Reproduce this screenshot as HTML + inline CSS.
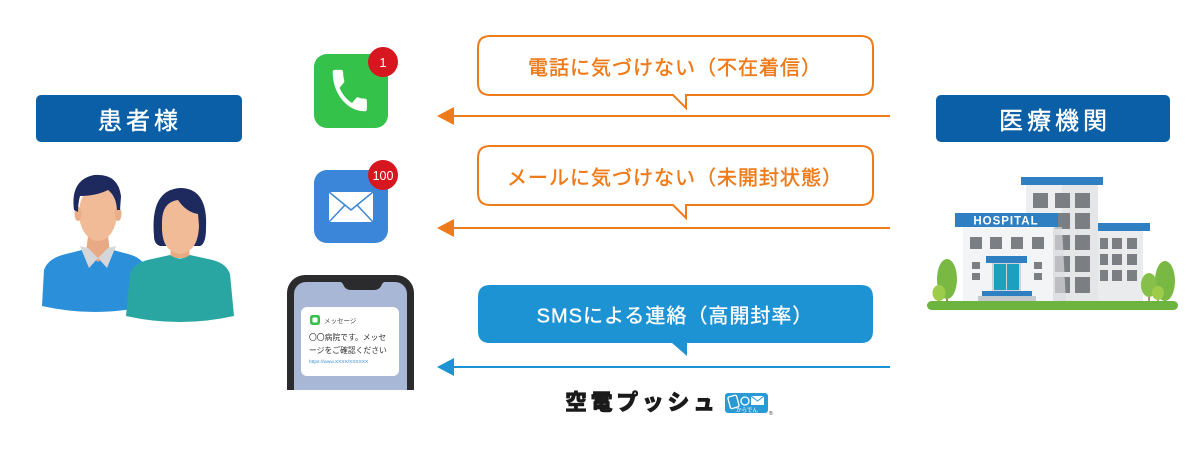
<!DOCTYPE html>
<html><head><meta charset="utf-8"><style>
html,body{margin:0;padding:0;background:#fff;}
svg{display:block;}
text{font-family:"Liberation Sans","Noto Sans CJK JP",sans-serif;}
</style></head><body>
<svg width="1200" height="453" viewBox="0 0 1200 453" xmlns="http://www.w3.org/2000/svg">
<defs>
<clipPath id="phclip"><rect x="280" y="270" width="140" height="120"/></clipPath>
</defs>

<!-- Header boxes -->
<rect x="36" y="95" width="206" height="47" rx="5" fill="#0b5fa6"/>
<text x="140" y="129" font-size="24" fill="#fff" stroke="#fff" stroke-width="0.4" text-anchor="middle" letter-spacing="4">患者様</text>
<rect x="936" y="95" width="234" height="47" rx="5" fill="#0b5fa6"/>
<text x="1055" y="129" font-size="24" fill="#fff" stroke="#fff" stroke-width="0.4" text-anchor="middle" letter-spacing="4">医療機関</text>

<!-- People -->
<!-- man -->
<path d="M44 270 Q48 258 66 254 L98 246 L128 254 Q144 258 146 270 L148 306 Q95 318 42 306 Z" fill="#2b8fd9"/>
<path d="M88 236 L108 236 L110 252 L98 262 L86 252 Z" fill="#e8a985"/>
<path d="M80 246 L88 248 L98 258 L89 268 Z" fill="#d4d6d9"/>
<path d="M116 246 L108 248 L98 258 L107 268 Z" fill="#d4d6d9"/>
<ellipse cx="98" cy="213" rx="19" ry="28" fill="#f2bb98"/>
<ellipse cx="78" cy="214" rx="3.5" ry="7" fill="#eaae89"/>
<ellipse cx="118" cy="214" rx="3.5" ry="7" fill="#eaae89"/>
<path d="M74 210 Q70 180 94 175 Q118 173 121 196 L120 210 L117 210 Q116 196 108 190 Q96 196 80 196 Q78 203 78 212 Z" fill="#1e2a5e"/>
<!-- woman -->
<path d="M154 236 Q150 190 180 188 Q208 188 206 228 Q206 244 200 246 L160 246 Q154 244 154 236 Z" fill="#1e2a5e"/>
<path d="M172 240 L188 240 L190 258 L170 258 Z" fill="#e8a985"/>
<path d="M130 274 Q134 262 152 259 L170 255 Q180 262 190 255 L208 259 Q226 262 230 274 L234 316 Q180 328 126 316 Z" fill="#2aa6a2"/>
<path d="M162 222 Q162 202 178 200 Q186 212 198 214 L199 226 Q198 252 180 254 Q163 252 162 230 Z" fill="#f2bb98"/>

<!-- Phone icon -->
<rect x="314" y="54" width="74" height="74" rx="13" fill="#34c24a"/>
<path transform="translate(327,63) scale(1.9,2.3)" fill="#fff" d="M6.62 10.79c1.44 2.83 3.76 5.14 6.59 6.59l2.2-2.2c.27-.27.67-.36 1.020-.24 1.12.37 2.33.57 3.57.57.55 0 1 .45 1 1V20c0 .55-.45 1-1 1-9.39 0-17-7.610-17-17 0-.55.45-1 1-1h3.5c.55 0 1 .45 1 1 0 1.25.2 2.45.57 3.570.11.35.03.74-.25 1.02l-2.2 2.2z"/>
<circle cx="383" cy="62" r="15" fill="#d7171f"/>
<text x="383" y="67" font-size="13" fill="#fff" text-anchor="middle">1</text>

<!-- Mail icon -->
<rect x="314" y="170" width="74" height="73" rx="13" fill="#3b86d8"/>
<rect x="329" y="192" width="44" height="30" fill="#fff"/>
<polyline points="329,192 351,210 373,192" fill="none" stroke="#3b86d8" stroke-width="1.5"/>
<line x1="329" y1="222" x2="345" y2="205" stroke="#3b86d8" stroke-width="1.5"/>
<line x1="373" y1="222" x2="357" y2="205" stroke="#3b86d8" stroke-width="1.5"/>
<circle cx="383" cy="175" r="15" fill="#d7171f"/>
<text x="383" y="180" font-size="12.5" fill="#fff" text-anchor="middle">100</text>

<!-- Smartphone -->
<g clip-path="url(#phclip)">
<rect x="287" y="275" width="127" height="140" rx="18" fill="#2b2b2d"/>
<rect x="294" y="282" width="113" height="130" rx="12" fill="#a9b7d6"/>
<path d="M341 282 L384 282 L382 284 Q380 290 374 290 L351 290 Q345 290 343 284 Z" fill="#2b2b2d"/>
<rect x="301" y="307" width="98" height="69" rx="6" fill="#fff"/>
<rect x="310" y="315" width="10" height="10" rx="2.5" fill="#34c24a"/>
<rect x="312.5" y="317.5" width="5" height="5" rx="1" fill="#fff"/>
<text x="324" y="323" font-size="6.5" fill="#444">メッセージ</text>
<text x="309" y="340" font-size="7.8" fill="#333">〇〇病院です。メッセ</text>
<text x="309" y="353" font-size="7.8" fill="#333">ージをご確認ください</text>
<text x="309" y="363" font-size="4.8" fill="#3a8fd6">https://www.XXXX/XXXXXX</text>
</g>

<!-- Bubble 1 -->
<path d="M490 36 H861 Q873 36 873 48 V83 Q873 95 861 95 H686 V108 L673 95 H490 Q478 95 478 83 V48 Q478 36 490 36 Z" fill="#fff" stroke="#ee7b1a" stroke-width="2"/>
<text x="675" y="74.5" font-size="20" fill="#ee7b1a" stroke="#ee7b1a" stroke-width="0.45" text-anchor="middle" letter-spacing="1">電話に気づけない（不在着信）</text>
<line x1="450" y1="116" x2="890" y2="116" stroke="#ee7b1a" stroke-width="2"/>
<polygon points="437,116 454,107 454,125" fill="#ee7b1a"/>

<!-- Bubble 2 -->
<path d="M490 146 H861 Q873 146 873 158 V193 Q873 205 861 205 H686 V218 L673 205 H490 Q478 205 478 193 V158 Q478 146 490 146 Z" fill="#fff" stroke="#ee7b1a" stroke-width="2"/>
<text x="675" y="184.5" font-size="20" fill="#ee7b1a" stroke="#ee7b1a" stroke-width="0.45" text-anchor="middle" letter-spacing="1">メールに気づけない（未開封状態）</text>
<line x1="450" y1="228" x2="890" y2="228" stroke="#ee7b1a" stroke-width="2"/>
<polygon points="437,228 454,219 454,237" fill="#ee7b1a"/>

<!-- Bubble 3 -->
<path d="M490 285 H861 Q873 285 873 297 V331 Q873 343 861 343 H687 V356 L672 343 H490 Q478 343 478 331 V297 Q478 285 490 285 Z" fill="#1e93d4"/>
<text x="675" y="322.5" font-size="20" fill="#fff" stroke="#fff" stroke-width="0.35" text-anchor="middle" letter-spacing="1">SMSによる連絡（高開封率）</text>
<line x1="450" y1="367" x2="890" y2="367" stroke="#1e93d4" stroke-width="2"/>
<polygon points="437,367 454,358 454,376" fill="#1e93d4"/>

<!-- Logo -->
<text x="565" y="410" font-size="22" font-weight="900" fill="#1a1a1a" stroke="#1a1a1a" stroke-width="0.6" letter-spacing="3.6">空電プッシュ</text>
<rect x="725" y="393" width="43" height="20" rx="3" fill="#2a9ad6"/>
<rect x="729" y="396" width="9" height="12" rx="1.5" fill="none" stroke="#fff" stroke-width="1.3" transform="rotate(-15 733 402)"/>
<circle cx="745" cy="401" r="4" fill="none" stroke="#fff" stroke-width="1.3"/>
<rect x="751" y="396" width="13" height="9" fill="#fff"/>
<polyline points="751,396 757.5,401 764,396" fill="none" stroke="#2a9ad6" stroke-width="1"/>
<text x="747" y="412" font-size="5.5" fill="#fff" text-anchor="middle">からでん</text>
<text x="769" y="415" font-size="5" fill="#333">®</text>

<!-- Hospital -->
<rect x="1026" y="185" width="72" height="117" fill="#eceef0"/>
<rect x="1062" y="185" width="36" height="117" fill="#e4e6e8"/>
<rect x="1021" y="177" width="82" height="8" fill="#2f80c3"/>
<g fill="#7b7e82">
<rect x="1033" y="193" width="15" height="15"/><rect x="1055" y="193" width="15" height="15"/><rect x="1075" y="193" width="15" height="15"/>
<rect x="1055" y="213" width="15" height="16"/><rect x="1075" y="213" width="15" height="16"/>
<rect x="1055" y="235" width="15" height="15"/><rect x="1075" y="235" width="15" height="15"/>
<rect x="1055" y="256" width="15" height="16"/><rect x="1075" y="256" width="15" height="16"/>
<rect x="1055" y="277" width="15" height="16"/><rect x="1075" y="277" width="15" height="16"/>
</g>
<!-- right wing -->
<rect x="1098" y="231" width="45" height="71" fill="#e9ebed"/>
<rect x="1098" y="223" width="52" height="8" fill="#2f80c3"/>
<g fill="#7b7e82">
<rect x="1100" y="238" width="8" height="11"/><rect x="1112" y="238" width="10" height="11"/><rect x="1127" y="238" width="10" height="11"/>
<rect x="1100" y="254" width="8" height="11"/><rect x="1112" y="254" width="10" height="11"/><rect x="1127" y="254" width="10" height="11"/>
<rect x="1100" y="270" width="8" height="11"/><rect x="1112" y="270" width="10" height="11"/><rect x="1127" y="270" width="10" height="11"/>
</g>
<!-- left wing -->
<rect x="963" y="227" width="90" height="75" fill="#f3f4f6"/>
<polygon points="1053,227 1062,227 1066,302 1053,302" fill="#d8dadd" opacity="0.7"/>
<rect x="955" y="213" width="103" height="14" fill="#2f80c3"/>
<text x="1006" y="224.5" font-size="11.5" font-weight="bold" fill="#fff" text-anchor="middle" letter-spacing="1">HOSPITAL</text>
<g fill="#7b7e82">
<rect x="970" y="237" width="12" height="12"/><rect x="990" y="237" width="12" height="12"/><rect x="1011" y="237" width="12" height="12"/><rect x="1032" y="237" width="12" height="12"/>
<rect x="972" y="262" width="8" height="7"/><rect x="972" y="273" width="8" height="7"/>
<rect x="1034" y="262" width="8" height="7"/><rect x="1034" y="273" width="8" height="7"/>
</g>
<rect x="986" y="256" width="41" height="7" fill="#2f80c3"/>
<rect x="992" y="263" width="29" height="28" fill="#cfd3d6"/>
<rect x="994" y="264" width="12" height="26" fill="#1f9fbf"/>
<rect x="1007" y="264" width="12" height="26" fill="#1f9fbf"/>
<rect x="982" y="291" width="50" height="5" fill="#2f80c3"/>
<rect x="978" y="296" width="58" height="6" fill="#c7cacd"/>
<!-- trees -->
<line x1="947" y1="275" x2="947" y2="302" stroke="#8a5a2b" stroke-width="1.5"/>
<ellipse cx="947" cy="279" rx="10" ry="20" fill="#79b843"/>
<line x1="939" y1="290" x2="939" y2="302" stroke="#8a5a2b" stroke-width="1.2"/>
<ellipse cx="939" cy="293" rx="6.5" ry="8" fill="#9ccc4a"/>
<line x1="1165" y1="275" x2="1165" y2="302" stroke="#8a5a2b" stroke-width="1.5"/>
<ellipse cx="1165" cy="281" rx="10" ry="20" fill="#79b843"/>
<line x1="1149" y1="283" x2="1149" y2="302" stroke="#8a5a2b" stroke-width="1.3"/>
<ellipse cx="1149" cy="285" rx="8" ry="12" fill="#86c04a"/>
<line x1="1158" y1="293" x2="1158" y2="302" stroke="#8a5a2b" stroke-width="1.2"/>
<ellipse cx="1158" cy="293" rx="6" ry="7" fill="#9ccc4a"/>
<rect x="927" y="301" width="251" height="9" rx="4.5" fill="#6cb33f"/>
</svg>
</body></html>
